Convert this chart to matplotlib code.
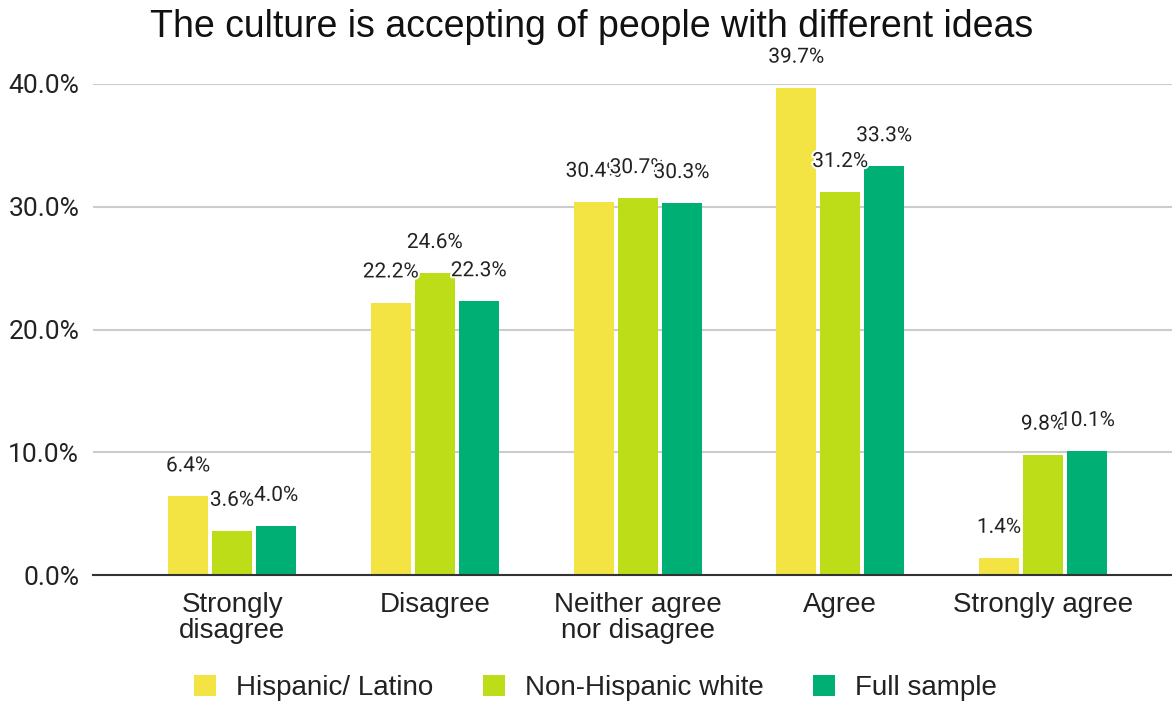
from matplotlib import pyplot as plt
import matplotlib.patheffects as pe
import numpy as np

categories = ['Strongly\ndisagree', 'Disagree', 'Neither agree\nnor disagree', 'Agree', 'Strongly agree']
series = ['Hispanic/ Latino', 'Non-Hispanic white', 'Full sample']
hispanic = [6.4, 22.2, 30.4, 39.7, 1.4]
white = [3.6, 24.6, 30.7, 31.2, 9.8]
full = [4.0, 22.3, 30.3, 33.3, 10.1]
yticks = [0, 10, 20, 30, 40]

colors = ['#F4E443', '#BEDD19', '#00AF73']
sans = ['Liberation Sans', 'DejaVu Sans']
roboto = ['Roboto', 'DejaVu Sans']

fig = plt.figure(figsize=(11.72, 7.04), dpi=100)
ax = fig.add_axes([0.0794, 0.1832, 0.9206, 0.6975])

x = np.arange(len(categories))
step = 0.217
width = 0.197
for i, (vals, name) in enumerate(zip([hispanic, white, full], series)):
    pos = x + (i - 1) * step
    ax.bar(pos, vals, width, color=colors[i], label=name, zorder=3)
    for px, v in zip(pos, vals):
        ax.annotate(f'{v:.1f}%', (px, v), xytext=(0, 22), textcoords='offset points',
                    ha='center', va='center', fontsize=15, family=roboto, color='#222222',
                    zorder=5, annotation_clip=False,
                    path_effects=[pe.withStroke(linewidth=3, foreground='white')])

ax.set_xlim(-0.686, 4.636)
ax.set_ylim(0, 40)
ax.set_yticks(yticks)
ax.set_yticklabels([f'{t:.1f}%' for t in yticks], fontsize=19, family=roboto, color='#222222')
ax.set_xticks(x)
ax.set_xticklabels(categories, fontsize=20, family=sans, color='#222222', linespacing=1.0)
ax.tick_params(axis='y', length=0, pad=10)
ax.tick_params(axis='x', length=0, pad=12)
ax.grid(axis='y', color='#cccccc', linewidth=1.5, zorder=0)
for s in ['top', 'right', 'left']:
    ax.spines[s].set_visible(False)
ax.spines['bottom'].set_color('#333333')
ax.spines['bottom'].set_linewidth(1.5)
ax.spines['bottom'].set_zorder(4)

fig.text(0.505, 0.962, 'The culture is accepting of people with different ideas',
         ha='center', va='center', fontsize=27, family=sans, color='#111111')

leg = fig.legend(loc='center', bbox_to_anchor=(0.508, 0.023), ncol=3, frameon=False,
                 prop={'family': sans, 'size': 20}, handlelength=0.8, handleheight=0.8,
                 handletextpad=0.7, columnspacing=1.8)
for t in leg.get_texts():
    t.set_color('#222222')

fig.savefig('out.png', dpi=100)
